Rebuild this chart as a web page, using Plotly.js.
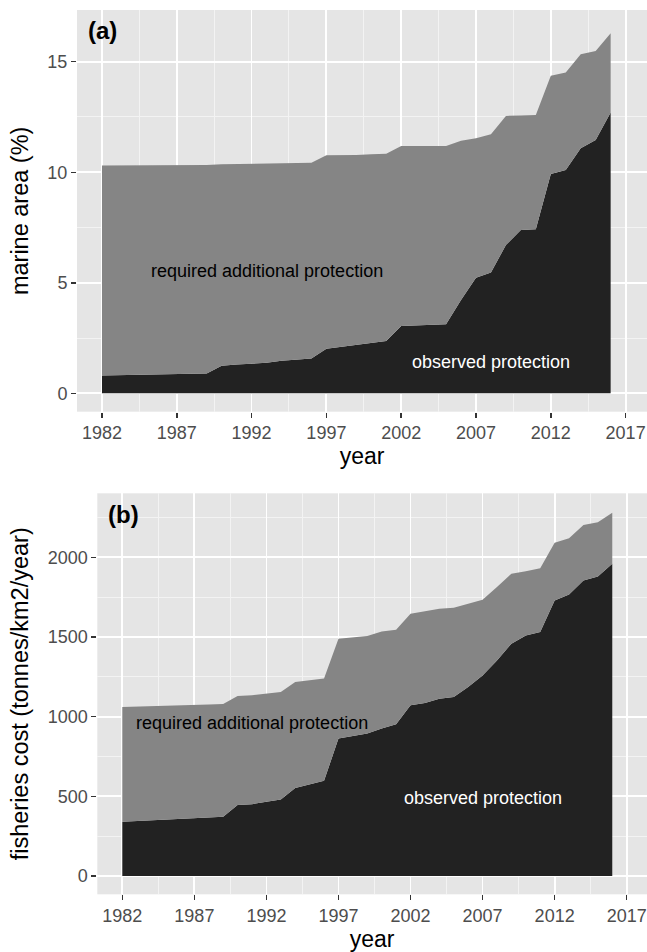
<!DOCTYPE html>
<html>
<head>
<meta charset="utf-8">
<script src="https://cdn.plot.ly/plotly-3.0.1.min.js"></script>
<style>html,body{margin:0;padding:0;background:#fff;}#chart{width:647px;height:952px;}</style>
</head>
<body>
<div id="chart"></div>
<script>
// ---- data ----
var years = [1982,1983,1984,1985,1986,1987,1988,1989,1990,1991,1992,1993,1994,1995,1996,1997,1998,1999,2000,2001,2002,2003,2004,2005,2006,2007,2008,2009,2010,2011,2012,2013,2014,2015,2016];

// panel (a): marine area (%)
var areaObserved = [0.80,0.82,0.83,0.85,0.86,0.88,0.89,0.90,1.25,1.30,1.35,1.38,1.47,1.52,1.57,2.02,2.10,2.19,2.28,2.37,3.05,3.08,3.10,3.12,4.22,5.23,5.46,6.71,7.39,7.42,9.92,10.10,11.09,11.46,12.70];
var areaTotal = [10.30,10.30,10.30,10.31,10.31,10.32,10.32,10.33,10.36,10.37,10.38,10.39,10.41,10.42,10.43,10.77,10.77,10.78,10.82,10.84,11.19,11.19,11.19,11.19,11.43,11.54,11.72,12.55,12.57,12.59,14.36,14.51,15.34,15.49,16.29];

// panel (b): fisheries cost (tonnes/km2/year)
var costObserved = [340,345,350,355,358,362,367,372,445,451,466,480,553,576,597,863,877,894,925,952,1071,1086,1113,1124,1186,1259,1353,1458,1510,1531,1729,1767,1855,1880,1959];
var costTotal = [1060,1062,1065,1068,1070,1073,1076,1079,1130,1135,1143,1155,1217,1228,1239,1489,1497,1506,1535,1545,1646,1663,1677,1683,1708,1733,1813,1897,1913,1932,2091,2120,2203,2220,2279];

var xTickVals = [1982,1987,1992,1997,2002,2007,2012,2017];
var xTickText = ['1982','1987','1992','1997','2002','2007','2012','2017'];
var yTickValsA = [0,5,10,15];
var yTickValsB = [0,500,1000,1500,2000];

var labelRequired = 'required additional protection';
var labelObserved = 'observed protection';

// ---- style ----
var FONT = 'Liberation Sans, Arial, Helvetica, sans-serif';
var DARK = '#222222';
var MID = '#858585';
var BG = '#E5E5E5';

function obsTrace(y, xa, ya) {
  return {x: years, y: y, xaxis: xa, yaxis: ya, type: 'scatter', mode: 'lines',
    line: {width: 0, color: DARK}, fill: 'tozeroy', fillcolor: DARK, hoverinfo: 'skip', showlegend: false};
}
function totTrace(y, xa, ya) {
  return {x: years, y: y, xaxis: xa, yaxis: ya, type: 'scatter', mode: 'lines',
    line: {width: 0, color: MID}, fill: 'tonexty', fillcolor: MID, hoverinfo: 'skip', showlegend: false};
}

var data = [
  obsTrace(areaObserved, 'x', 'y'),
  totTrace(areaTotal, 'x', 'y'),
  obsTrace(costObserved, 'x2', 'y2'),
  totTrace(costTotal, 'x2', 'y2')
];

function xAxis(domain, range, anchor) {
  return {
    domain: domain, range: range, anchor: anchor,
    tickmode: 'array', tickvals: xTickVals, ticktext: xTickText,
    ticks: 'outside', ticklen: 5, tickwidth: 1.5, tickcolor: '#333333',
    tickfont: {family: FONT, size: 18, color: '#4D4D4D'},
    showgrid: true, gridcolor: '#FFFFFF', gridwidth: 1.8,
    minor: {tick0: 1984.5, dtick: 5, showgrid: true, gridcolor: '#F3F3F3', gridwidth: 1, ticklen: 0},
    zeroline: false, showline: false, automargin: false, fixedrange: true,
    title: {text: 'year', font: {family: FONT, size: 23, color: '#000000'}, standoff: 5}
  };
}
function yAxis(domain, range, anchor, tickvals, minor0, minorDt, titleText) {
  return {
    domain: domain, range: range, anchor: anchor,
    tickmode: 'array', tickvals: tickvals,
    ticks: 'outside', ticklen: 5, tickwidth: 1.5, tickcolor: '#333333',
    tickfont: {family: FONT, size: 18, color: '#4D4D4D'},
    showgrid: true, gridcolor: '#FFFFFF', gridwidth: 1.8,
    minor: {tick0: minor0, dtick: minorDt, showgrid: true, gridcolor: '#F3F3F3', gridwidth: 1, ticklen: 0},
    zeroline: false, showline: false, automargin: false, fixedrange: true,
    title: {text: titleText, font: {family: FONT, size: 23.5, color: '#000000'}, standoff: 12}
  };
}

var layout = {
  width: 647, height: 952,
  margin: {l: 0, r: 0, t: 0, b: 0, pad: 0},
  paper_bgcolor: '#FFFFFF', plot_bgcolor: BG,
  showlegend: false,
  font: {family: FONT},
  xaxis: xAxis([77/647, 1], [1980.33, 2018.43], 'y'),
  yaxis: yAxis([1 - 411.7/952, 1 - 10/952], [-0.832, 17.34], 'x', yTickValsA, 2.5, 5, 'marine area (%)'),
  xaxis2: xAxis([97.3/647, 1], [1980.265, 2018.41], 'y2'),
  yaxis2: yAxis([1 - 894.3/952, 1 - 493.3/952], [-114.8, 2401.6], 'x2', yTickValsB, 250, 500, 'fisheries cost (tonnes/km2/year)'),
  annotations: [
    {text: '<b>(a)</b>', xref: 'paper', yref: 'paper', x: 86/647, y: 1 - 30.7/952, xanchor: 'left', yanchor: 'middle', showarrow: false, font: {family: FONT, size: 24, color: '#000000'}},
    {text: '<b>(b)</b>', xref: 'paper', yref: 'paper', x: 106/647, y: 1 - 514/952, xanchor: 'left', yanchor: 'middle', showarrow: false, font: {family: FONT, size: 24, color: '#000000'}},
    {text: labelRequired, xref: 'x', yref: 'y', x: 1993, y: 5.55, xanchor: 'center', yanchor: 'middle', showarrow: false, font: {family: FONT, size: 18, color: '#000000'}},
    {text: labelObserved, xref: 'x', yref: 'y', x: 2008, y: 1.43, xanchor: 'center', yanchor: 'middle', showarrow: false, font: {family: FONT, size: 18, color: '#FFFFFF'}},
    {text: labelRequired, xref: 'x2', yref: 'y2', x: 1991, y: 962, xanchor: 'center', yanchor: 'middle', showarrow: false, font: {family: FONT, size: 18, color: '#000000'}},
    {text: labelObserved, xref: 'x2', yref: 'y2', x: 2007, y: 487, xanchor: 'center', yanchor: 'middle', showarrow: false, font: {family: FONT, size: 18, color: '#FFFFFF'}}
  ]
};

Plotly.newPlot('chart', data, layout, {displayModeBar: false, staticPlot: true});
</script>
</body>
</html>
